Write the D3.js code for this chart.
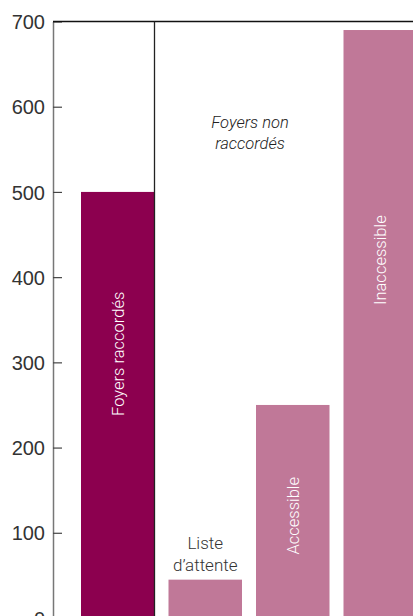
<!DOCTYPE html>
<html>
<head>
<meta charset="utf-8">
<script src="https://cdn.jsdelivr.net/npm/d3@7"></script>
<style>
  body { margin: 0; background: #fff; }
  svg { display: block; font-family: Roboto, "Open Sans", "DejaVu Sans", sans-serif; }
</style>
</head>
<body>
<div id="chart"></div>
<script>
// data
const categories = ['Foyers raccordés', 'Liste d’attente', 'Accessible', 'Inaccessible']
const values = [500, 45, 250, 690]
const groups = ['raccordé', 'non', 'non', 'non']
const yTicks = [0, 100, 200, 300, 400, 500, 600, 700]

const width = 413
const height = 616
const colors = { 'raccordé': '#8c004f', 'non': '#c07898' }

const svg = d3.select('#chart')
    .append('svg')
    .attr('width', width)
    .attr('height', height)

const x = d3.scaleBand()
    .domain(categories)
    .range([74, 424])
    .paddingInner(0.16)
    .paddingOuter(0.08)

const y = d3.scaleLinear()
    .domain([0, 700])
    .range([618, 21.5])

// bars
svg.append('g')
    .selectAll('rect')
    .data(categories)
    .join('rect')
    .attr('x', (d) => x(d))
    .attr('y', (d, i) => y(values[i]))
    .attr('width', x.bandwidth())
    .attr('height', (d, i) => y(0) - y(values[i]))
    .attr('fill', (d, i) => colors[groups[i]])

// y axis
const axis = svg.append('g')
    .attr('transform', 'translate(53,0)')
    .call(d3.axisLeft(y).tickValues(yTicks).tickSizeInner(-9).tickSizeOuter(0).tickPadding(8))
axis.select('.domain').attr('stroke', '#777').attr('stroke-width', 1.5)
axis.selectAll('.tick line').attr('stroke', '#444').attr('stroke-width', 1.2)
axis.selectAll('.tick text')
    .attr('fill', '#333')
    .attr('dy', '0.36em')
    .style('font-size', '20px')
    .style('font-weight', 300)

// frame lines: top and the divider after the first bar
const divX = x(categories[0]) + x.bandwidth()
svg.append('line')
    .attr('x1', 53).attr('x2', width)
    .attr('y1', y(700)).attr('y2', y(700))
    .attr('stroke', '#111').attr('stroke-width', 1.5)
svg.append('line')
    .attr('x1', divX).attr('x2', divX)
    .attr('y1', y(700)).attr('y2', y(0))
    .attr('stroke', '#222').attr('stroke-width', 1.3)

// labels inside bars (vertical); where along the bar, in data units
const labelAt = [310, null, 120, 420]
svg.append('g')
    .selectAll('text')
    .data(categories.filter((d, i) => labelAt[i] !== null))
    .join('text')
    .attr('transform', (d) => {
        const i = categories.indexOf(d)
        return `translate(${x(d) + x.bandwidth() / 2 + 6},${y(labelAt[i])}) rotate(-90)`
    })
    .attr('text-anchor', 'middle')
    .attr('fill', '#fff')
    .style('font-size', '16.5px')
    .style('font-weight', 300)
    .text((d) => d)

// label above the short bar
const wait = svg.append('text')
    .attr('text-anchor', 'middle')
    .attr('fill', '#333')
    .style('font-size', '17px')
    .style('font-weight', 300)
wait.append('tspan')
    .attr('x', x(categories[1]) + x.bandwidth() / 2)
    .attr('y', y(values[1]) - 31)
    .text('Liste')
wait.append('tspan')
    .attr('x', x(categories[1]) + x.bandwidth() / 2)
    .attr('y', y(values[1]) - 9)
    .text('d’attente')

// group note
const note = svg.append('text')
    .attr('text-anchor', 'middle')
    .attr('fill', '#222')
    .style('font-size', '16.5px')
    .style('font-style', 'italic')
    .style('font-weight', 300)
note.append('tspan').attr('x', 250).attr('y', 128).text('Foyers non')
note.append('tspan').attr('x', 250).attr('y', 149).text('raccordés')
</script>
</body>
</html>
